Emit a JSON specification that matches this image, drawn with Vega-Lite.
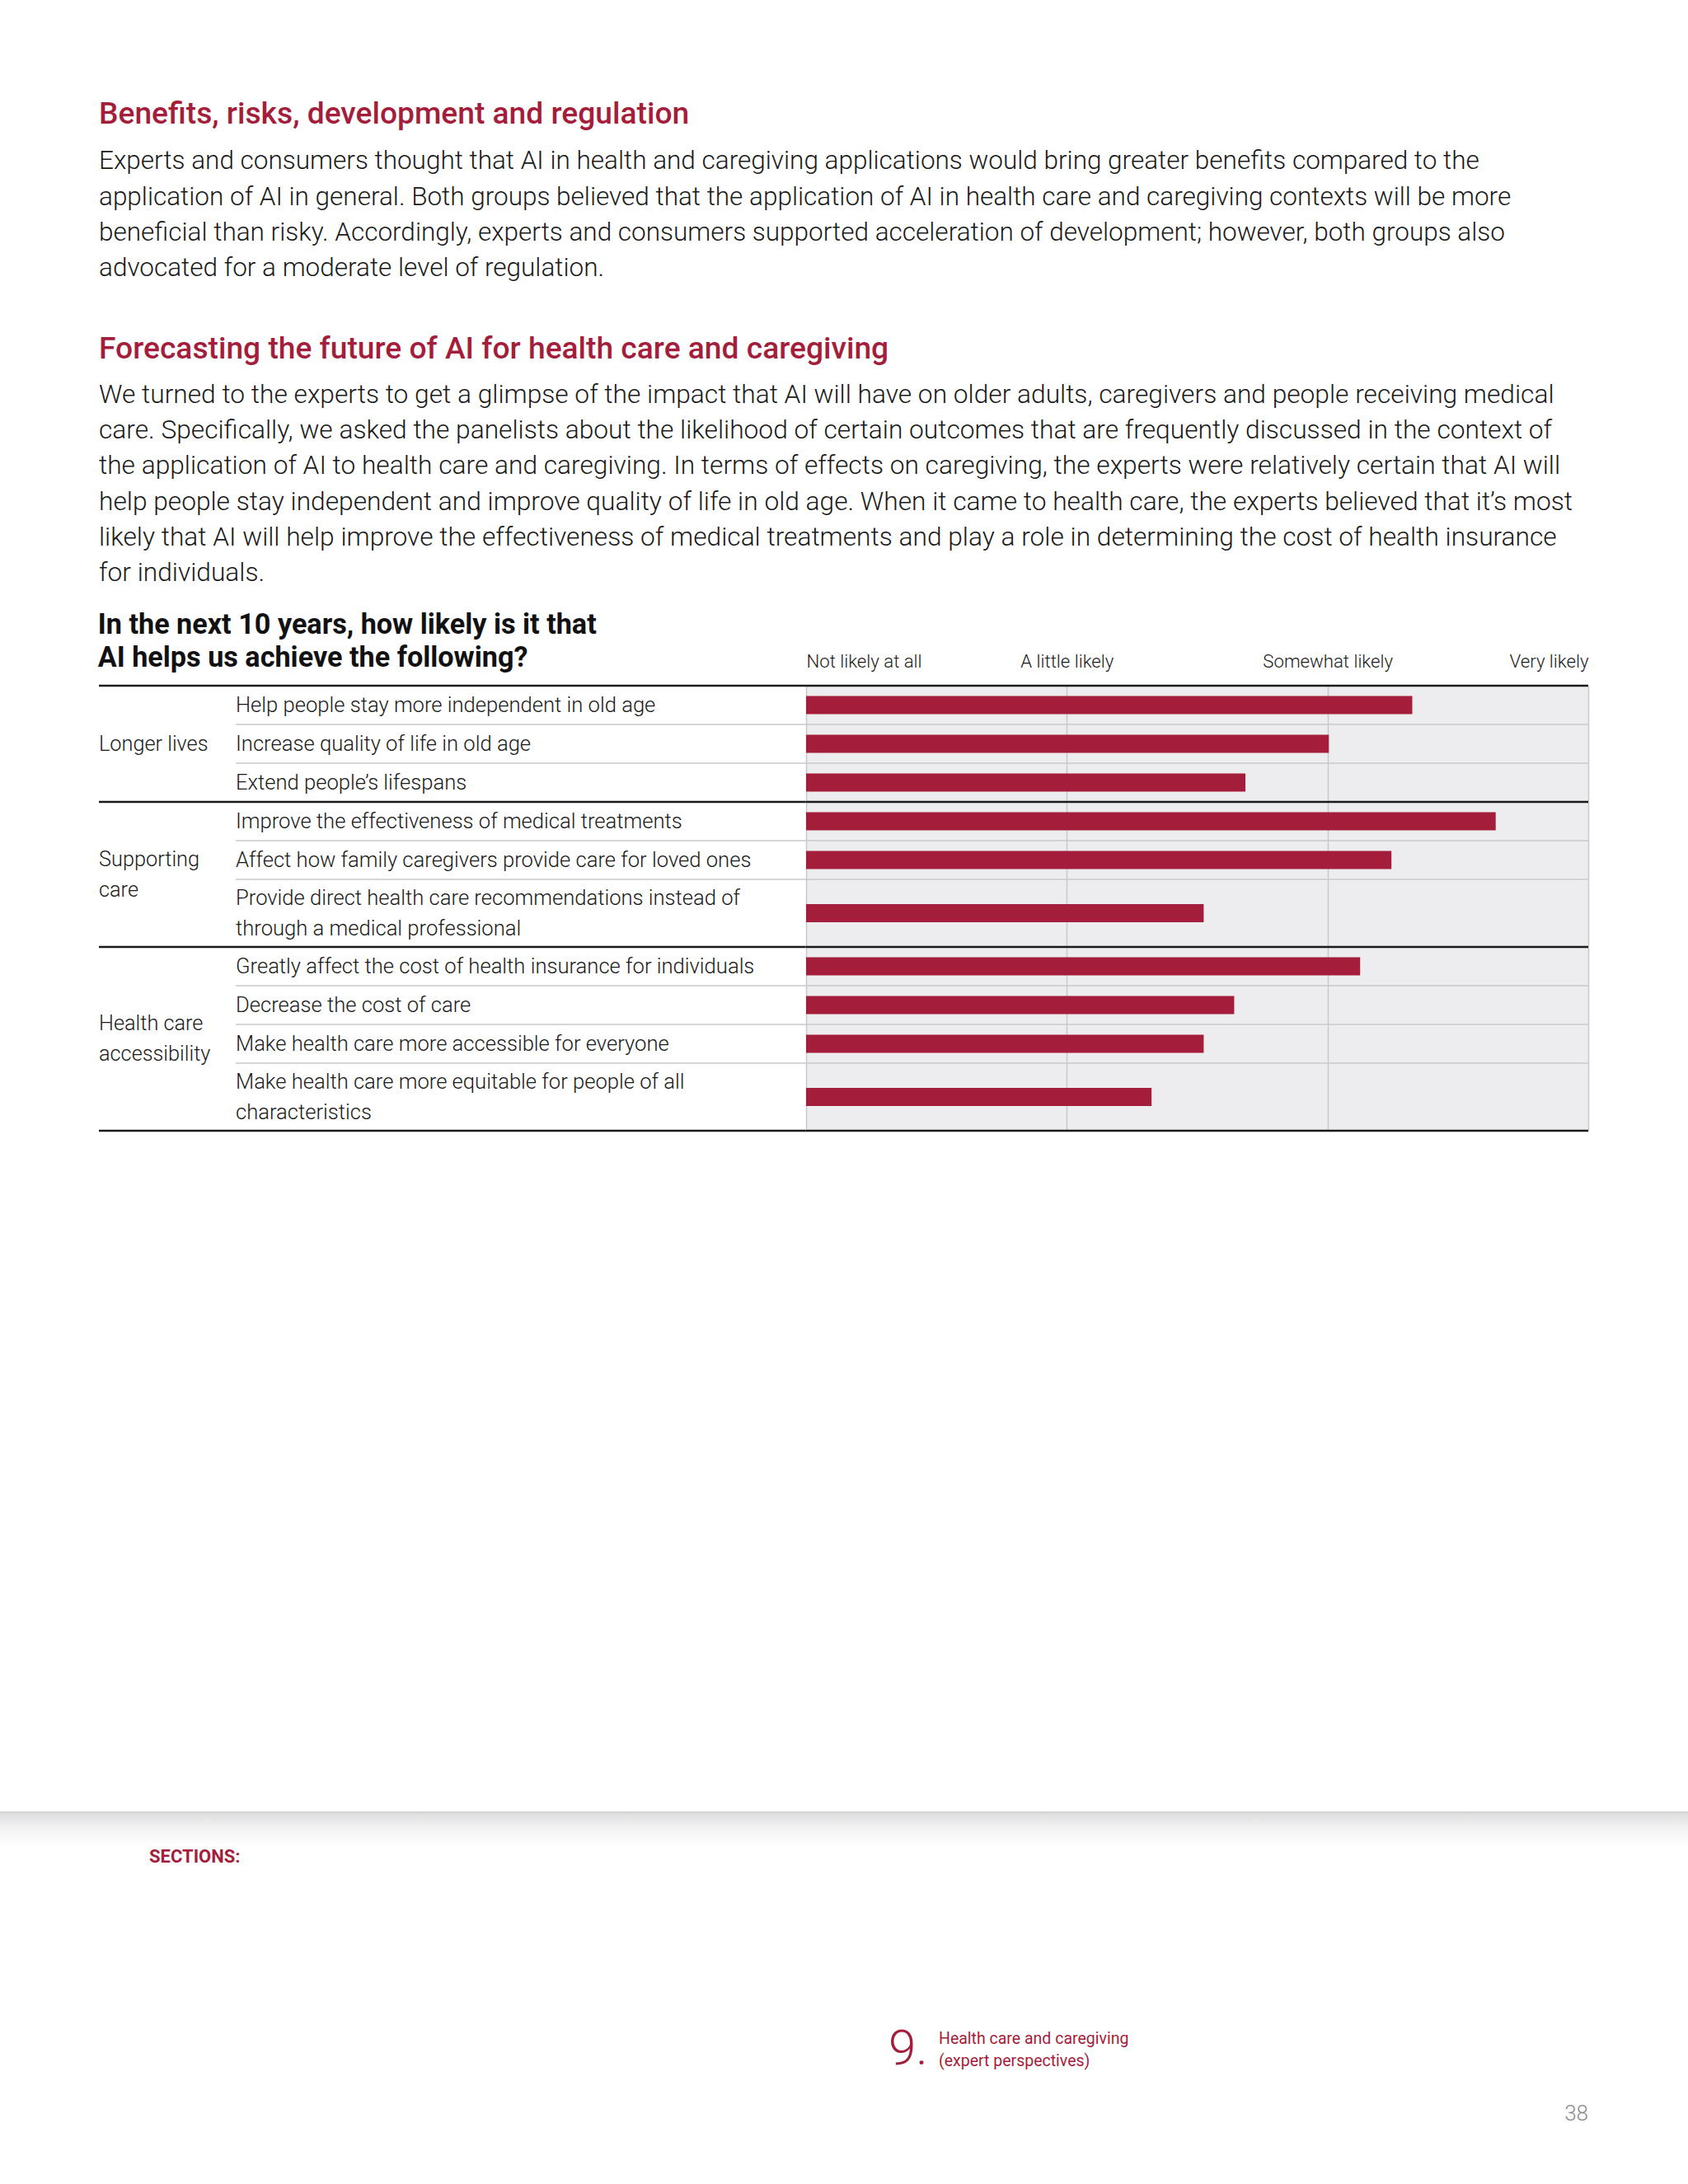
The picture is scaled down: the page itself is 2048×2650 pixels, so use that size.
{
  "$schema": "https://vega.github.io/schema/vega-lite/v6.json",
  "padding": {"left": 0, "top": 119, "right": 0, "bottom": 0},
  "background": "#ffffff",
  "spacing": 0,
  "config": {"view": {"stroke": null}, "font": "Roboto", "text": {"font": "Roboto"}},
  "vconcat": [
    {
      "width": 2048, "height": 60.7,
      "data": {"values": []},
      "mark": {"type": "text"},
      "title": {
        "text": "Benefits, risks, development and regulation",
        "subtitle": [
          "Experts and consumers thought that AI in health and caregiving applications would bring greater benefits compared to the",
          "application of AI in general. Both groups believed that the application of AI in health care and caregiving contexts will be more",
          "beneficial than risky. Accordingly, experts and consumers supported acceleration of development; however, both groups also",
          "advocated for a moderate level of regulation."
        ],
        "anchor": "start", "dx": 120, "offset": 0,
        "font": "Roboto", "fontSize": 37.2, "fontWeight": 500, "color": "#A41E3B",
        "subtitleFont": "Roboto", "subtitleFontSize": 31.5, "subtitleFontWeight": 300, "subtitleColor": "#1a1a1a",
        "subtitleLineHeight": 43.4, "subtitlePadding": 22.5
      }
    },
    {
      "width": 2048, "height": 27.7,
      "data": {"values": []},
      "mark": {"type": "text"},
      "title": {
        "text": "Forecasting the future of AI for health care and caregiving",
        "subtitle": [
          "We turned to the experts to get a glimpse of the impact that AI will have on older adults, caregivers and people receiving medical",
          "care. Specifically, we asked the panelists about the likelihood of certain outcomes that are frequently discussed in the context of",
          "the application of AI to health care and caregiving. In terms of effects on caregiving, the experts were relatively certain that AI will",
          "help people stay independent and improve quality of life in old age. When it came to health care, the experts believed that it’s most",
          "likely that AI will help improve the effectiveness of medical treatments and play a role in determining the cost of health insurance",
          "for individuals."
        ],
        "anchor": "start", "dx": 120, "offset": 0,
        "font": "Roboto", "fontSize": 37.2, "fontWeight": 500, "color": "#A41E3B",
        "subtitleFont": "Roboto", "subtitleFontSize": 31.7, "subtitleFontWeight": 300, "subtitleColor": "#1a1a1a",
        "subtitleLineHeight": 43.3, "subtitlePadding": 21
      }
    },
    {
      "bounds": "flush",
      "spacing": 0,
      "data": {"values": [
        {"group": "Longer lives", "item": "Help people stay more independent in old age", "value": 2.325},
        {"group": "Longer lives", "item": "Increase quality of life in old age", "value": 2.005},
        {"group": "Longer lives", "item": "Extend people’s lifespans", "value": 1.685},
        {"group": "Supporting\ncare", "item": "Improve the effectiveness of medical treatments", "value": 2.645},
        {"group": "Supporting\ncare", "item": "Affect how family caregivers provide care for loved ones", "value": 2.245},
        {"group": "Supporting\ncare", "item": "Provide direct health care recommendations instead of\nthrough a medical professional", "value": 1.525},
        {"group": "Health care\naccessibility", "item": "Greatly affect the cost of health insurance for individuals", "value": 2.125},
        {"group": "Health care\naccessibility", "item": "Decrease the cost of care", "value": 1.642},
        {"group": "Health care\naccessibility", "item": "Make health care more accessible for everyone", "value": 1.525},
        {"group": "Health care\naccessibility", "item": "Make health care more equitable for people of all\ncharacteristics", "value": 1.325}
      ]},
      "transform": [
        {"calculate": "indexof(datum.item, '\\n') >= 0 ? 2 : 1", "as": "lines"},
        {"calculate": "indexof(datum.group, '\\n') >= 0 ? 2 : 1", "as": "gLines"},
        {"window": [{"op": "sum", "field": "lines", "as": "cumLines"}, {"op": "row_number", "as": "idx"}]},
        {"calculate": "datum.cumLines * 35 + datum.idx * 12", "as": "yEnd"},
        {"calculate": "datum.yEnd - datum.lines * 35 - 12", "as": "yStart"},
        {"calculate": "(datum.yStart + datum.yEnd) / 2", "as": "yMid"},
        {"calculate": "datum.yMid - (datum.lines - 1) * 18.5", "as": "labelY"},
        {"joinaggregate": [
          {"op": "min", "field": "idx", "as": "gFirst"},
          {"op": "max", "field": "idx", "as": "gLast"},
          {"op": "min", "field": "yStart", "as": "gTop"},
          {"op": "max", "field": "yEnd", "as": "gBot"}
        ], "groupby": ["group"]},
        {"calculate": "(datum.gTop + datum.gBot) / 2 - (datum.gLines - 1) * 18.5", "as": "gLabelY"}
      ],
      "hconcat": [
        {
          "width": 120, "height": 540,
          "data": {"values": []},
          "mark": {"type": "text"}
        },
        {
          "width": 166, "height": 540,
          "title": {
            "text": ["In the next 10 years, how likely is it that", "AI helps us achieve the following?"],
            "anchor": "start", "offset": 14.1, "font": "Roboto", "fontSize": 34.2, "fontWeight": 700,
            "color": "#111111", "lineHeight": 40.6
          },
          "layer": [
            {
              "transform": [{"filter": "datum.idx == datum.gLast"}],
              "mark": {"type": "rule", "color": "#1a1a1a", "strokeWidth": 2.5},
              "encoding": {"y": {"field": "yEnd", "type": "quantitative", "scale": {"domain": [0, 540], "reverse": true, "nice": false, "zero": false, "padding": 0}, "axis": null}}
            },
            {
              "transform": [{"filter": "datum.idx == 1"}],
              "mark": {"type": "rule", "color": "#1a1a1a", "strokeWidth": 2.5},
              "encoding": {"y": {"field": "yStart", "type": "quantitative", "scale": {"domain": [0, 540], "reverse": true, "nice": false, "zero": false, "padding": 0}, "axis": null}}
            },
            {
              "transform": [{"filter": "datum.idx == datum.gFirst"}],
              "mark": {"type": "text", "align": "left", "baseline": "middle", "lineBreak": "\n", "lineHeight": 37, "fontSize": 25.3, "fontWeight": 300, "color": "#1a1a1a"},
              "encoding": {
                "x": {"value": 0},
                "y": {"field": "gLabelY", "type": "quantitative", "scale": {"domain": [0, 540], "reverse": true, "nice": false, "zero": false, "padding": 0}, "axis": null},
                "text": {"field": "group"}
              }
            }
          ]
        },
        {
          "width": 692, "height": 540,
          "layer": [
            {
              "transform": [{"filter": "datum.idx != datum.gLast"}],
              "mark": {"type": "rule", "color": "#c8c8cb", "strokeWidth": 1.5},
              "encoding": {"y": {"field": "yEnd", "type": "quantitative", "scale": {"domain": [0, 540], "reverse": true, "nice": false, "zero": false, "padding": 0}, "axis": null}}
            },
            {
              "transform": [{"filter": "datum.idx == datum.gLast"}],
              "mark": {"type": "rule", "color": "#1a1a1a", "strokeWidth": 2.5},
              "encoding": {"y": {"field": "yEnd", "type": "quantitative", "scale": {"domain": [0, 540], "reverse": true, "nice": false, "zero": false, "padding": 0}, "axis": null}}
            },
            {
              "transform": [{"filter": "datum.idx == 1"}],
              "mark": {"type": "rule", "color": "#1a1a1a", "strokeWidth": 2.5},
              "encoding": {"y": {"field": "yStart", "type": "quantitative", "scale": {"domain": [0, 540], "reverse": true, "nice": false, "zero": false, "padding": 0}, "axis": null}}
            },
            {
              "mark": {"type": "text", "align": "left", "baseline": "middle", "lineBreak": "\n", "lineHeight": 37, "fontSize": 25.6, "fontWeight": 300, "color": "#1a1a1a"},
              "encoding": {
                "x": {"value": 0},
                "y": {"field": "labelY", "type": "quantitative", "scale": {"domain": [0, 540], "reverse": true, "nice": false, "zero": false, "padding": 0}, "axis": null},
                "text": {"field": "item"}
              }
            }
          ]
        },
        {
          "width": 949, "height": 540,
          "view": {"fill": "#EDECEF", "stroke": null},
          "layer": [
            {
              "mark": {"type": "bar", "orient": "horizontal", "size": 22, "color": "#A41E3B"},
              "encoding": {
                "x": {
                  "field": "value", "type": "quantitative", "stack": null,
                  "scale": {"domain": [0, 3], "nice": false, "zero": true, "padding": 0},
                  "axis": {
                    "orient": "top", "values": [0, 1, 2, 3],
                    "labelExpr": "['Not likely at all', 'A little likely', 'Somewhat likely', 'Very likely'][datum.value]",
                    "labelFlush": true, "ticks": false, "tickSize": 0, "domain": false,
                    "grid": true, "gridColor": "#c9c9cc", "gridWidth": 1.5,
                    "labelFont": "Roboto", "labelFontSize": 22.2, "labelFontWeight": 300, "labelColor": "#1a1a1a",
                    "labelPadding": 18, "title": null
                  }
                },
                "y": {"field": "yMid", "type": "quantitative", "scale": {"domain": [0, 540], "reverse": true, "nice": false, "zero": false, "padding": 0}, "axis": null}
              }
            },
            {
              "transform": [{"filter": "datum.idx != datum.gLast"}],
              "mark": {"type": "rule", "color": "#c8c8cb", "strokeWidth": 1.5},
              "encoding": {"y": {"field": "yEnd", "type": "quantitative", "scale": {"domain": [0, 540], "reverse": true, "nice": false, "zero": false, "padding": 0}, "axis": null}}
            },
            {
              "transform": [{"filter": "datum.idx == datum.gLast"}],
              "mark": {"type": "rule", "color": "#1a1a1a", "strokeWidth": 2.5},
              "encoding": {"y": {"field": "yEnd", "type": "quantitative", "scale": {"domain": [0, 540], "reverse": true, "nice": false, "zero": false, "padding": 0}, "axis": null}}
            },
            {
              "transform": [{"filter": "datum.idx == 1"}],
              "mark": {"type": "rule", "color": "#1a1a1a", "strokeWidth": 2.5},
              "encoding": {"y": {"field": "yStart", "type": "quantitative", "scale": {"domain": [0, 540], "reverse": true, "nice": false, "zero": false, "padding": 0}, "axis": null}}
            }
          ]
        }
      ]
    },
    {
      "width": 2048, "height": 824,
      "data": {"values": []},
      "mark": {"type": "text"}
    },
    {
      "width": 2048, "height": 45,
      "data": {"values": [{}]},
      "mark": {
        "type": "rect",
        "fill": {"gradient": "linear", "x1": 0, "y1": 0, "x2": 0, "y2": 1, "stops": [
          {"offset": 0, "color": "#cfcfd1"},
          {"offset": 0.08, "color": "#e0e0e2"},
          {"offset": 0.45, "color": "#f3f3f4"},
          {"offset": 0.9, "color": "#fefefe"},
          {"offset": 1, "color": "#ffffff"}
        ]}
      },
      "encoding": {},
      "title": {"text": "SECTIONS:", "orient": "bottom", "anchor": "start", "dx": 181, "offset": 0, "font": "Roboto", "fontSize": 22, "fontWeight": 700, "color": "#A41E3B"}
    },
    {
      "width": 2048, "height": 288,
      "data": {"values": [{"num": "9.", "section": "Health care and caregiving\n(expert perspectives)", "col": 4, "row": 2}]},
      "encoding": {
        "x": {"field": "col", "type": "ordinal", "scale": {"type": "point", "domain": [1, 2, 3, 4, 5], "range": [181, 1377], "padding": 0}, "axis": null},
        "y": {"field": "row", "type": "ordinal", "scale": {"type": "point", "domain": [1, 2], "range": [66, 223], "padding": 0}, "axis": null}
      },
      "layer": [
        {"mark": {"type": "text", "align": "left", "baseline": "middle", "fontSize": 60, "fontWeight": 300, "color": "#A41E3B"}, "encoding": {"text": {"field": "num"}}},
        {"mark": {"type": "text", "align": "left", "baseline": "middle", "dx": 61, "dy": -13, "fontSize": 19.5, "fontWeight": 400, "lineBreak": "\n", "lineHeight": 27, "color": "#A41E3B"}, "encoding": {"text": {"field": "section"}}}
      ],
      "title": {"text": "38", "orient": "bottom", "anchor": "end", "dx": -121, "offset": 0, "font": "Roboto", "fontSize": 26, "fontWeight": 300, "color": "#8c8c8c"}
    }
  ]
}
